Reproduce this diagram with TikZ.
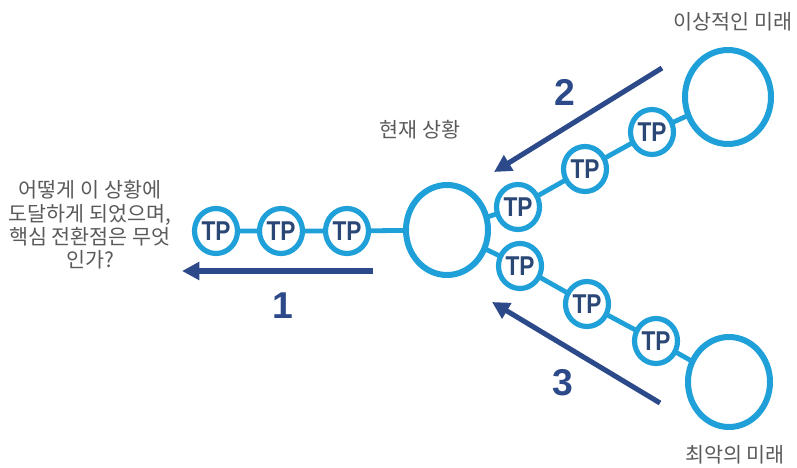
\documentclass[tikz,border=0pt]{standalone}
\usepackage{fontspec}
\setmainfont{Liberation Sans}
\newfontfamily\kr{Noto Sans CJK KR}
\usetikzlibrary{shapes.geometric,arrows.meta}
\definecolor{lblue}{HTML}{1FA0D9}
\definecolor{dblue}{HTML}{2C4A8A}
\definecolor{tpblue}{HTML}{2A4775}
\definecolor{txtgray}{HTML}{5A5A5A}
\newcommand{\tptext}{\scalebox{1}[1.2]{TP}}
\begin{document}
\begin{tikzpicture}[x=0.75pt,y=-0.75pt,
  tp/.style={ellipse,draw=lblue,line width=3.9pt,fill=white,inner sep=0pt,
    minimum width=43*0.75pt,minimum height=45*0.75pt,
    font=\fontsize{17}{17}\selectfont\bfseries,text=tpblue},
  big/.style={ellipse,draw=lblue,line width=4.5pt,fill=white,inner sep=0pt},
  link/.style={draw=lblue,line width=3.6pt},
  arr/.style={draw=dblue,line width=3.8pt,-{Triangle[length=13pt,width=13pt]}},
  num/.style={font=\fontsize{28}{28}\selectfont\bfseries,text=dblue},
  lbl/.style={font=\kr\fontsize{15.5}{17.5}\selectfont,text=txtgray,align=center}]
\useasboundingbox (0,0) rectangle (797,468);
% centres
\coordinate (cc) at (447,230);
\coordinate (ucc) at (728,97);
\coordinate (lcc) at (729,382);
\coordinate (l1c) at (216,231);
\coordinate (l2c) at (281,231);
\coordinate (l3c) at (347,231);
\coordinate (u1c) at (518,207);
\coordinate (u2c) at (585,169);
\coordinate (u3c) at (652,132);
\coordinate (d1c) at (520,266);
\coordinate (d2c) at (587,304);
\coordinate (d3c) at (656,341);
% connectors
\draw[link] (l1c) -- (l2c) -- (l3c) -- (cc);
\draw[link] (cc) -- (u1c) -- (u2c) -- (u3c) -- (ucc);
\draw[link] (cc) -- (d1c) -- (d2c) -- (d3c) -- (lcc);
% circles
\node[big,minimum width=82*0.75pt,minimum height=90*0.75pt] (c) at (cc) {};
\node[big,minimum width=86*0.75pt,minimum height=94*0.75pt] (u) at (ucc) {};
\node[big,minimum width=82*0.75pt,minimum height=90*0.75pt] (d) at (lcc) {};
\node[tp] (l1) at (l1c) {\tptext};
\node[tp] (l2) at (l2c) {\tptext};
\node[tp] (l3) at (l3c) {\tptext};
\node[tp] (u1) at (u1c) {\tptext};
\node[tp] (u2) at (u2c) {\tptext};
\node[tp] (u3) at (u3c) {\tptext};
\node[tp] (d1) at (d1c) {\tptext};
\node[tp] (d2) at (d2c) {\tptext};
\node[tp] (d3) at (d3c) {\tptext};
% arrows
\coordinate (a1s) at (373,271); \coordinate (a1e) at (182,271);
\coordinate (a2s) at (662,68);  \coordinate (a2e) at (494,172);
\coordinate (a3s) at (660,403); \coordinate (a3e) at (492,302);
\draw[arr] (a1s) -- (a1e);
\draw[arr] (a2s) -- (a2e);
\draw[arr] (a3s) -- (a3e);
\node[num] (n1) at (283,306) {1};
\node[num] (n2) at (565,92) {2};
\node[num] (n3) at (563,383) {3};
% labels
\node[lbl] (t1) at (733,22) {이상적인 미래};
\node[lbl] (t2) at (420,130) {현재 상황};
\node[lbl] (t3) at (735,455) {최악의 미래};
\node[lbl] (t4) at (90,225) {어떻게 이 상황에\\도달하게 되었으며,\\핵심 전환점은 무엇\\인가?};
\end{tikzpicture}
\end{document}
